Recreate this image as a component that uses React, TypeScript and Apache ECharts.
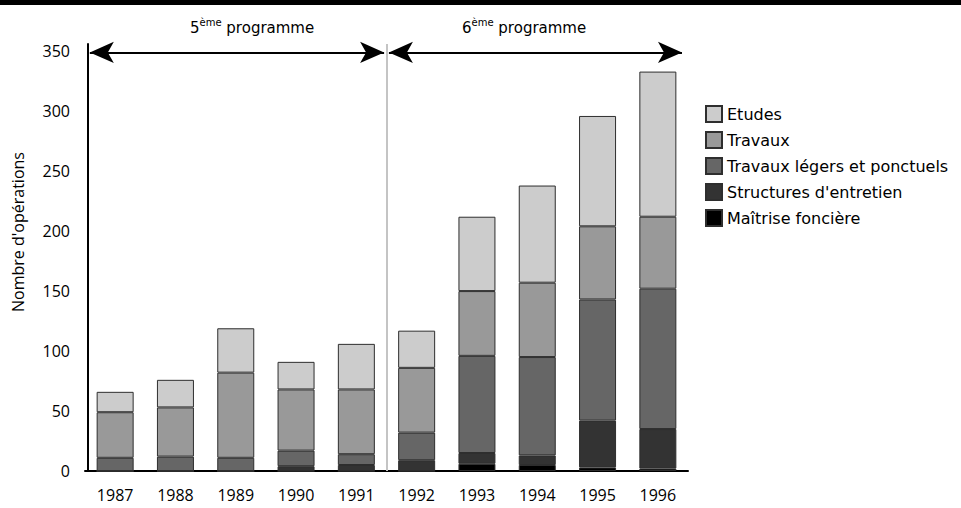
import { useEffect, useRef } from "react";
import * as echarts from "echarts";

// Operations per year, stacked bottom to top
const years = ["1987", "1988", "1989", "1990", "1991", "1992", "1993", "1994", "1995", "1996"];
const maitriseFonciere = [0, 0, 0, 0, 0, 0, 6, 5, 3, 2];
const structuresEntretien = [0, 0, 0, 4, 5, 9, 9, 8, 39, 33];
const travauxLegers = [11, 12, 11, 13, 9, 23, 81, 82, 101, 117];
const travaux = [38, 41, 71, 51, 54, 54, 54, 62, 61, 60];
const etudes = [17, 23, 37, 23, 38, 31, 62, 81, 92, 121];

const seriesNames = [
  "Maîtrise foncière",
  "Structures d'entretien",
  "Travaux légers et ponctuels",
  "Travaux",
  "Etudes",
];
const seriesColors = ["#000000", "#333333", "#666666", "#999999", "#cccccc"];
const seriesValues = [maitriseFonciere, structuresEntretien, travauxLegers, travaux, etudes];

const axisFont = "Open Sans, DejaVu Sans, sans-serif";
const textFont = "DejaVu Sans, sans-serif";

export default function App() {
  const ref = useRef<HTMLDivElement>(null);

  useEffect(() => {
    document.body.style.margin = "0";
    if (!ref.current) return;
    const chart = echarts.init(ref.current, undefined, { renderer: "svg" });

    const barSeries = seriesNames.map((name, i) => ({
      name,
      type: "bar" as const,
      stack: "total",
      barWidth: 37,
      data: seriesValues[i],
      itemStyle: {
        color: seriesColors[i],
        borderColor: "#2e2e2e",
        borderWidth: 1,
      },
      emphasis: { disabled: true },
    }));

    const programmeTitle = (num: string) => ({
      text: `{n|${num}}{s|ème}{n| programme}`,
      rich: {
        n: { fontSize: 15, fontFamily: textFont, fill: "#000", lineHeight: 18, verticalAlign: "bottom" },
        s: { fontSize: 10, fontFamily: textFont, fill: "#000", lineHeight: 18, verticalAlign: "top", padding: [0, 0, 8, 0] },
      },
    });

    chart.setOption({
      animation: false,
      grid: { left: 85, top: 44, width: 603, bottom: 37, containLabel: false },
      legend: {
        orient: "vertical",
        left: 705,
        top: 105,
        padding: 0,
        itemWidth: 16,
        itemHeight: 16,
        itemGap: 8,
        icon: "rect",
        selectedMode: false,
        data: ["Etudes", "Travaux", "Travaux légers et ponctuels", "Structures d'entretien", "Maîtrise foncière"],
        textStyle: { fontFamily: textFont, fontSize: 16, lineHeight: 16, color: "#000", padding: [0, 0, 0, 0] },
      },
      xAxis: [
        {
          type: "category",
          data: years,
          axisLine: { lineStyle: { color: "#000", width: 2 } },
          axisTick: { show: false },
          axisLabel: { color: "#000", fontFamily: axisFont, fontSize: 16, margin: 16 },
        },
        { type: "value", min: 0, max: 10, show: false },
      ],
      yAxis: {
        type: "value",
        min: 0,
        max: 356,
        interval: 50,
        offset: -3,
        axisLine: { show: true, lineStyle: { color: "#000", width: 2 } },
        axisTick: { show: false },
        splitLine: { show: false },
        axisLabel: { color: "#000", fontFamily: axisFont, fontSize: 16, margin: 18, showMaxLabel: false },
      },
      graphic: [
        { type: "rect", left: 0, top: 0, shape: { width: 961, height: 5 }, style: { fill: "#000" } },
        { type: "text", x: 190, y: 17, style: programmeTitle("5") },
        { type: "text", x: 462, y: 17, style: programmeTitle("6") },
        {
          type: "text",
          x: 18,
          y: 232,
          rotation: Math.PI / 2,
          style: {
            text: "Nombre d'opérations",
            fontFamily: axisFont,
            fontSize: 16,
            fill: "#000",
            align: "center",
            verticalAlign: "middle",
          },
        },
      ],
      series: [
        ...barSeries,
        {
          type: "line",
          xAxisIndex: 1,
          yAxisIndex: 0,
          data: [],
          silent: true,
          markLine: {
            silent: true,
            symbol: ["arrow", "arrow"],
            symbolSize: [16, 24],
            label: { show: false },
            lineStyle: { color: "#000", width: 2, type: "solid" },
            data: [
              [{ coord: [0.08, 349] }, { coord: [4.96, 349] }],
              [{ coord: [5.04, 349] }, { coord: [9.9, 349] }],
              [
                { coord: [5, 356], symbol: "none", lineStyle: { color: "#c4c4c4", width: 2, type: "solid" } },
                { coord: [5, 0], symbol: "none" },
              ],
            ],
          },
        },
      ],
    });

    return () => chart.dispose();
  }, []);

  return <div ref={ref} style={{ width: 961, height: 508 }} />;
}
